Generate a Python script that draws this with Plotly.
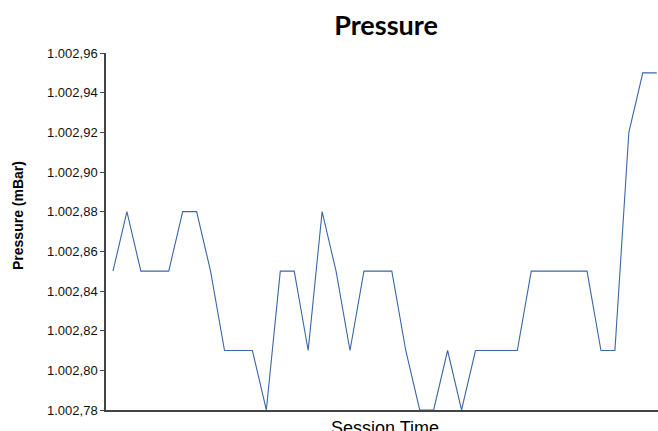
import plotly.graph_objects as go

# Data
session_time = list(range(40))
pressure = [
    1002.85, 1002.88, 1002.85, 1002.85, 1002.85, 1002.88, 1002.88, 1002.85,
    1002.81, 1002.81, 1002.81, 1002.78, 1002.85, 1002.85, 1002.81, 1002.88,
    1002.85, 1002.81, 1002.85, 1002.85, 1002.85, 1002.81, 1002.78, 1002.78,
    1002.81, 1002.78, 1002.81, 1002.81, 1002.81, 1002.81, 1002.85, 1002.85,
    1002.85, 1002.85, 1002.85, 1002.81, 1002.81, 1002.92, 1002.95, 1002.95,
]
y_ticks = [1002.78, 1002.80, 1002.82, 1002.84, 1002.86, 1002.88, 1002.90,
           1002.92, 1002.94, 1002.96]

W, H = 658, 431
L, R, T, B = 106, 0, 53, 21
PW, PH = W - L - R, H - T - B

fig = go.Figure()
fig.add_trace(go.Scatter(
    x=session_time, y=pressure, mode="lines",
    line=dict(color="#3a67a5", width=1.1),
    hoverinfo="skip",
))

fig.update_layout(
    width=W, height=H,
    margin=dict(l=L, r=R, t=T, b=B),
    paper_bgcolor="white", plot_bgcolor="white",
    separators=",.",
    showlegend=False,
    hovermode=False,
    title=dict(text="<b>Pressure</b>", x=386 / W, xanchor="center",
               y=1 - 26 / H, yanchor="middle", xref="container", yref="container",
               font=dict(family="Lato", size=27, color="#000000")),
    xaxis=dict(range=[-0.5, 39.09], showgrid=False, zeroline=False,
               showticklabels=False, ticks="",
               showline=True, linecolor="#444444", linewidth=1.5),
    yaxis=dict(range=[1002.78, 1002.96], tickvals=y_ticks, tickformat=",.2f",
               showgrid=False, zeroline=False,
               ticks="outside", ticklen=4, tickcolor="#444444", tickwidth=1,
               showline=True, linecolor="#444444", linewidth=1.5,
               tickfont=dict(family="Liberation Sans, Arial", size=13, color="#111111")),
    annotations=[
        dict(text="Session Time", xref="paper", yref="paper", x=(385 - L) / PW,
             y=0, yshift=-18, xanchor="center", yanchor="middle", showarrow=False,
             font=dict(family="Liberation Sans, Arial", size=18, color="#000000")),
        dict(text="<b>Pressure (mBar)</b>", xref="paper", yref="paper",
             x=0, xshift=-88, y=(410 - 216) / PH, xanchor="center", yanchor="middle",
             textangle=-90, showarrow=False,
             font=dict(family="Liberation Sans, Arial", size=14, color="#000000")),
    ],
)

fig.write_html(
    "out.html",
    config={"displayModeBar": False},
    post_script="document.body.style.margin='0';document.body.style.overflow='hidden';",
)
